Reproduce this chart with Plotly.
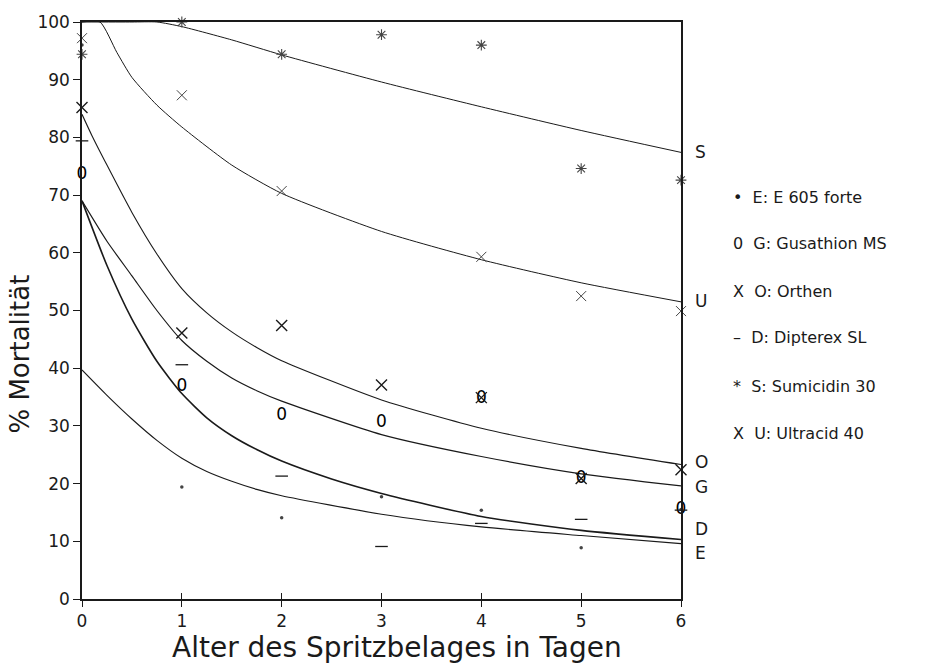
import plotly.graph_objects as go

# ---------------- data ----------------
days = [0, 1, 2, 3, 4, 5, 6]

# measured points (% mortality)
E_pts = [96.0, 19.4, 14.1, 17.7, 15.4, 8.9, 15.5]      # E 605 forte
G_pts = [73.6, 36.8, 31.8, 30.6, 34.7, 20.8, 15.4]     # Gusathion MS
O_pts = [85.2, 46.1, 47.4, 37.1, 34.9, 20.9, 22.4]     # Orthen
D_pts = [79.4, 40.6, 21.3, 9.1, 13.1, 13.8, 15.4]      # Dipterex SL
S_pts = [94.4, 100.0, 94.4, 97.8, 96.0, 74.6, 72.6]    # Sumicidin 30
U_days = [0, 1, 2, 4, 5, 6]
U_pts = [97.2, 87.3, 70.7, 59.3, 52.5, 49.9]           # Ultracid 40

# fitted curves
S_fx = [0, 0.5, 0.75, 1, 1.5, 2, 3, 4, 5, 6]
S_fy = [100, 100, 100, 99.2, 96.9, 94.3, 89.6, 85.3, 81.2, 77.4]
U_fx = [0, 0.18, 0.35, 0.5, 0.75, 1, 1.5, 2, 3, 4, 5, 6]
U_fy = [100, 100, 94.7, 90.4, 85.6, 81.8, 75.2, 70.3, 63.7, 58.8, 54.8, 51.5]
O_fx = [0, 0.1, 0.25, 0.5, 0.75, 1, 1.25, 1.5, 1.75, 2, 3, 4, 5, 6]
O_fy = [84.0, 80.3, 75.2, 67.0, 59.8, 53.8, 49.6, 46.3, 43.6, 41.3, 34.5, 29.6, 26.1, 23.3]
G_fx = [0, 0.25, 0.5, 0.75, 1, 1.25, 1.5, 1.75, 2, 3, 4, 5, 6]
G_fy = [69.0, 62.0, 56.0, 50.0, 44.8, 41.2, 38.3, 36.1, 34.3, 28.5, 24.7, 21.7, 19.6]
D_fx = [0, 0.25, 0.5, 0.75, 1, 1.25, 1.5, 1.75, 2, 2.5, 3, 4, 5, 6]
D_fy = [69.0, 57.8, 48.5, 41.2, 35.6, 31.4, 28.3, 25.9, 23.9, 20.8, 18.3, 14.3, 11.9, 10.3]
E_fx = [0, 0.25, 0.5, 0.75, 1, 1.25, 1.5, 1.75, 2, 3, 4, 5, 6]
E_fy = [39.7, 35.3, 31.2, 27.5, 24.4, 22.1, 20.4, 19.0, 17.9, 14.7, 12.5, 11.0, 9.6]

curve_labels = ["S", "U", "O", "G", "D", "E"]
curve_label_y = [77.4, 51.6, 23.8, 19.4, 12.2, 7.9]

legend_lines = ["\u2022  E: E 605 forte", "0  G: Gusathion MS", "X  O: Orthen",
                "\u2013  D: Dipterex SL", "*  S: Sumicidin 30", "X  U: Ultracid 40"]

y_ticks = [0, 10, 20, 30, 40, 50, 60, 70, 80, 90, 100]
x_ticks = [0, 1, 2, 3, 4, 5, 6]

INK = "#1a1a1a"
FONT = "DejaVu Sans, sans-serif"

fig = go.Figure()

# fitted curves
for fx, fy, w in [(S_fx, S_fy, 1.0), (U_fx, U_fy, 1.0), (O_fx, O_fy, 1.1),
                  (G_fx, G_fy, 1.2), (D_fx, D_fy, 1.6), (E_fx, E_fy, 1.1)]:
    fig.add_trace(go.Scatter(x=fx, y=fy, mode="lines",
                             line=dict(color=INK, width=w, shape="spline", smoothing=0.6),
                             showlegend=False, hoverinfo="skip", cliponaxis=False))

# measured points
fig.add_trace(go.Scatter(x=days, y=E_pts, mode="markers", cliponaxis=False, showlegend=False,
                         marker=dict(symbol="circle", size=3.5, color="#444")))
fig.add_trace(go.Scatter(x=days, y=G_pts, mode="text", text=["0"] * len(days), cliponaxis=False,
                         showlegend=False, textposition="middle center",
                         textfont=dict(family=FONT, size=17, color="#000")))
fig.add_trace(go.Scatter(x=days, y=O_pts, mode="markers", cliponaxis=False, showlegend=False,
                         marker=dict(symbol="x-thin-open", size=11, color=INK,
                                     line=dict(color=INK, width=1.4))))
fig.add_trace(go.Scatter(x=days, y=D_pts, mode="markers", cliponaxis=False, showlegend=False,
                         marker=dict(symbol="line-ew-open", size=9, color=INK,
                                     line=dict(color=INK, width=1.3))))
fig.add_trace(go.Scatter(x=days, y=S_pts, mode="markers", cliponaxis=False, showlegend=False,
                         marker=dict(symbol="asterisk-open", size=9, color="#444",
                                     line=dict(color="#444", width=1.1))))
fig.add_trace(go.Scatter(x=U_days, y=U_pts, mode="markers", cliponaxis=False, showlegend=False,
                         marker=dict(symbol="x-thin-open", size=10, color="#444",
                                     line=dict(color="#444", width=1.0))))

# dummy trace on overlay axis for inner x ticks
fig.add_trace(go.Scatter(x=[0, 6], y=[0, 0], xaxis="x2", mode="none", showlegend=False,
                         hoverinfo="skip"))

annotations = []
for lab, yv in zip(curve_labels, curve_label_y):
    annotations.append(dict(x=6.12 / 6, y=yv, xref="paper", yref="y", text=lab, showarrow=False,
                            xanchor="left", yanchor="middle",
                            font=dict(family=FONT, size=17, color=INK)))

leg_y_px = [193, 240, 288, 335, 384, 432]
for txt, py in zip(legend_lines, leg_y_px):
    annotations.append(dict(x=(731 - 82) / 599, y=(599 - py) / 583, xref="paper", yref="paper",
                            text=txt, showarrow=False, xanchor="left", yanchor="middle",
                            font=dict(family=FONT, size=16, color=INK)))

annotations.append(dict(x=(397 - 82) / 599, y=(599 - 648) / 583, xref="paper", yref="paper",
                        text="Alter des Spritzbelages in Tagen", showarrow=False,
                        xanchor="center", yanchor="middle",
                        font=dict(family=FONT, size=28, color=INK)))
annotations.append(dict(x=(20 - 82) / 599, y=(599 - 352) / 583, xref="paper", yref="paper",
                        text="% Mortalität", showarrow=False, textangle=-90,
                        xanchor="center", yanchor="middle",
                        font=dict(family=FONT, size=26, color=INK)))

fig.update_layout(
    width=926, height=669,
    margin=dict(l=82, r=245, t=16, b=70),
    paper_bgcolor="white", plot_bgcolor="white",
    annotations=annotations,
    xaxis=dict(range=[0, 6], tickvals=x_ticks, ticktext=[str(v) for v in x_ticks],
               showgrid=False, zeroline=False, showline=True, mirror=True,
               linecolor=INK, linewidth=1.5, ticks="outside", ticklen=6, tickwidth=1.3,
               tickcolor=INK, tickfont=dict(family=FONT, size=17, color=INK)),
    xaxis2=dict(range=[0, 6], overlaying="x", side="bottom", tickvals=x_ticks,
                showticklabels=False, showgrid=False, zeroline=False, showline=False,
                ticks="inside", ticklen=6, tickwidth=1.3, tickcolor=INK),
    yaxis=dict(range=[0, 100], tickvals=y_ticks, ticktext=[str(v) for v in y_ticks],
               showgrid=False, zeroline=False, showline=True, mirror=True,
               linecolor=INK, linewidth=1.5, ticks="outside", ticklen=7, tickwidth=1.3,
               tickcolor=INK, tickfont=dict(family=FONT, size=17, color=INK)),
)

fig.write_html("out.html")
